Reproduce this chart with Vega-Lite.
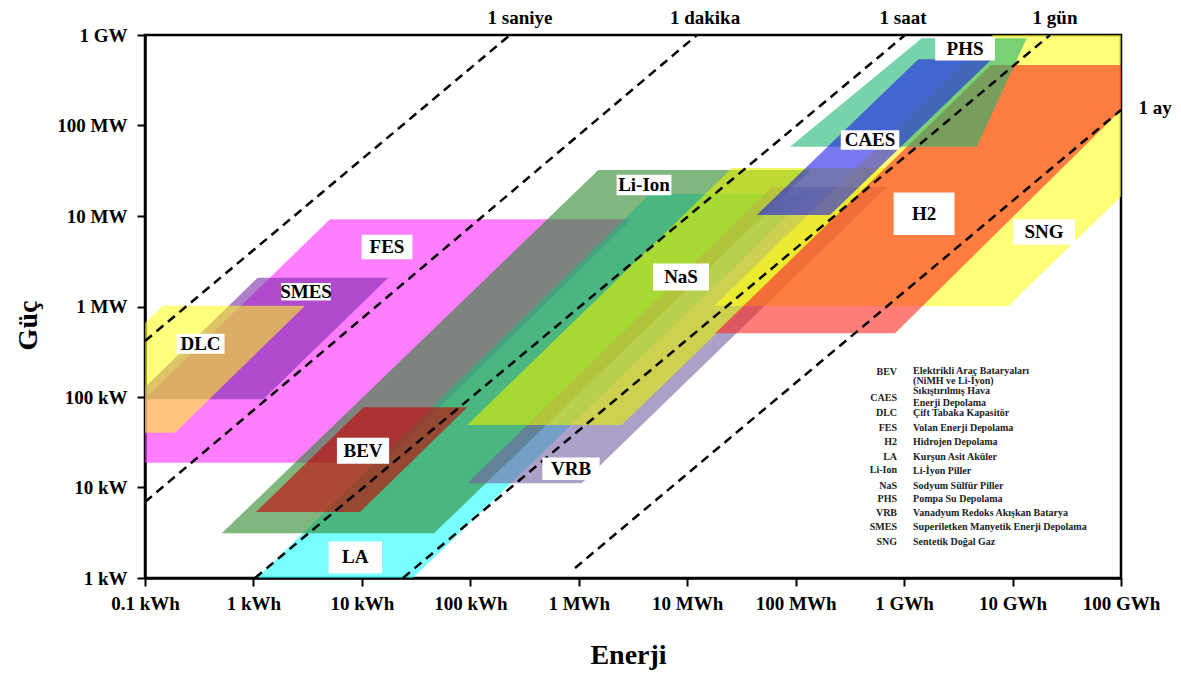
{
  "$schema": "https://vega.github.io/schema/vega-lite/v6.json",
  "width": 976,
  "height": 543,
  "autosize": {"type": "none"},
  "padding": {"left": 145, "top": 35, "right": 60, "bottom": 95},
  "background": "white",
  "config": {"view": {"stroke": "black", "strokeWidth": 2.5}, "font": "Liberation Serif"},
  "datasets": {
    "shapes": [
      {"name": "FES", "i": 0, "E": 0.1, "P": 96.25},
      {"name": "FES", "i": 1, "E": 5.082, "P": 9194},
      {"name": "FES", "i": 2, "E": 3076, "P": 9194},
      {"name": "FES", "i": 3, "E": 15.66, "P": 18.79},
      {"name": "FES", "i": 4, "E": 0.1, "P": 18.79},
      {"name": "LA", "i": 0, "E": 1.078, "P": 1},
      {"name": "LA", "i": 1, "E": 29.6, "P": 1},
      {"name": "LA", "i": 2, "E": 135600, "P": 17510},
      {"name": "LA", "i": 3, "E": 4538, "P": 17510},
      {"name": "Li-Ion", "i": 0, "E": 0.5097, "P": 3.118},
      {"name": "Li-Ion", "i": 1, "E": 46.24, "P": 3.118},
      {"name": "Li-Ion", "i": 2, "E": 137400, "P": 32240},
      {"name": "Li-Ion", "i": 3, "E": 1514, "P": 32240},
      {"name": "BEV", "i": 0, "E": 1.056, "P": 5.361},
      {"name": "BEV", "i": 1, "E": 9.61, "P": 5.361},
      {"name": "BEV", "i": 2, "E": 93.8, "P": 76.93},
      {"name": "BEV", "i": 3, "E": 10.31, "P": 76.93},
      {"name": "SMES", "i": 0, "E": 0.1, "P": 128.0},
      {"name": "SMES", "i": 1, "E": 1.095, "P": 2081},
      {"name": "SMES", "i": 2, "E": 17.52, "P": 2081},
      {"name": "SMES", "i": 3, "E": 1.233, "P": 94.3},
      {"name": "SMES", "i": 4, "E": 0.1, "P": 94.3},
      {"name": "DLC", "i": 0, "E": 0.1, "P": 657.3},
      {"name": "DLC", "i": 1, "E": 0.1466, "P": 1020},
      {"name": "DLC", "i": 2, "E": 2.989, "P": 1020},
      {"name": "DLC", "i": 3, "E": 0.1891, "P": 40.32},
      {"name": "DLC", "i": 4, "E": 0.1, "P": 40.32},
      {"name": "VRB", "i": 0, "E": 93.8, "P": 11.13},
      {"name": "VRB", "i": 1, "E": 1064, "P": 11.13},
      {"name": "VRB", "i": 2, "E": 695800, "P": 20910},
      {"name": "VRB", "i": 3, "E": 60530, "P": 20910},
      {"name": "NaS", "i": 0, "E": 93.8, "P": 49.04},
      {"name": "NaS", "i": 1, "E": 2488, "P": 49.04},
      {"name": "NaS", "i": 2, "E": 695800, "P": 33920},
      {"name": "NaS", "i": 3, "E": 25890, "P": 33920},
      {"name": "SNG", "i": 0, "E": 17670, "P": 1013},
      {"name": "SNG", "i": 1, "E": 9140000, "P": 1013},
      {"name": "SNG", "i": 2, "E": 100000000, "P": 16430},
      {"name": "SNG", "i": 3, "E": 100000000, "P": 1000000},
      {"name": "SNG", "i": 4, "E": 6607000, "P": 1000000},
      {"name": "H2", "i": 0, "E": 18050, "P": 505.7},
      {"name": "H2", "i": 1, "E": 824800, "P": 505.7},
      {"name": "H2", "i": 2, "E": 100000000, "P": 148400},
      {"name": "H2", "i": 3, "E": 100000000, "P": 466100},
      {"name": "H2", "i": 4, "E": 6331000, "P": 466100},
      {"name": "PHS", "i": 0, "E": 88720, "P": 58310},
      {"name": "PHS", "i": 1, "E": 4673000, "P": 58310},
      {"name": "PHS", "i": 2, "E": 13510000, "P": 919400},
      {"name": "PHS", "i": 3, "E": 1454000, "P": 919400},
      {"name": "CAES", "i": 0, "E": 43740, "P": 10260},
      {"name": "CAES", "i": 1, "E": 207400, "P": 10260},
      {"name": "CAES", "i": 2, "E": 6427000, "P": 538900},
      {"name": "CAES", "i": 3, "E": 1353000, "P": 538900}
    ],
    "lines": [
      {"id": "1 saniye", "E": 0.1, "P": 415.7},
      {"id": "1 saniye", "E": 232.2, "P": 1000000},
      {"id": "1 dakika", "E": 0.1, "P": 6.916},
      {"id": "1 dakika", "E": 12315, "P": 1000000},
      {"id": "1 saat", "E": 1.034, "P": 1},
      {"id": "1 saat", "E": 1019800, "P": 1000000},
      {"id": "1 gün", "E": 23.94, "P": 1},
      {"id": "1 gün", "E": 22160000, "P": 1000000},
      {"id": "1 ay", "E": 923.3, "P": 1.29},
      {"id": "1 ay", "E": 100000000, "P": 148400}
    ],
    "timeLabels": [
      {"label": "1 saniye", "E": 287.1, "P": 1541000},
      {"label": "1 dakika", "E": 14595, "P": 1541000},
      {"label": "1 saat", "E": 977200, "P": 1541000},
      {"label": "1 gün", "E": 24640000, "P": 1541000},
      {"label": "1 ay", "E": 206000000, "P": 156100}
    ],
    "labels": [
      {"name": "DLC", "E": 0.3249, "P": 388.2},
      {"name": "SMES", "E": 3.053, "P": 1457},
      {"name": "FES", "E": 17.04, "P": 4544},
      {"name": "BEV", "E": 10.24, "P": 25.5},
      {"name": "LA", "E": 8.695, "P": 1.685},
      {"name": "Li-Ion", "E": 3996, "P": 22000},
      {"name": "NaS", "E": 8767, "P": 2118},
      {"name": "VRB", "E": 848.1, "P": 16.13},
      {"name": "CAES", "E": 484900, "P": 69160},
      {"name": "PHS", "E": 3646000, "P": 703900},
      {"name": "H2", "E": 1527000, "P": 10600},
      {"name": "SNG", "E": 19510000, "P": 6657}
    ],
    "legendAbbr": [
      {"t": "BEV", "E": 860500, "P": 190.4},
      {"t": "CAES", "E": 860500, "P": 96.74},
      {"t": "DLC", "E": 860500, "P": 66.06},
      {"t": "FES", "E": 860500, "P": 45.1},
      {"t": "H2", "E": 860500, "P": 32.07},
      {"t": "LA", "E": 860500, "P": 21.89},
      {"t": "Li-Ion", "E": 860500, "P": 15.61},
      {"t": "NaS", "E": 860500, "P": 10.39},
      {"t": "PHS", "E": 860500, "P": 7.406},
      {"t": "VRB", "E": 860500, "P": 5.186},
      {"t": "SMES", "E": 860500, "P": 3.688},
      {"t": "SNG", "E": 860500, "P": 2.518}
    ],
    "legendDesc": [
      {"t": "Elektrikli Araç Bataryaları", "E": 1209000, "P": 195.3},
      {"t": "(NiMH ve Li-İyon)", "E": 1209000, "P": 151.4},
      {"t": "Sıkıştırılmış Hava", "E": 1209000, "P": 116.5},
      {"t": "Enerji Depolama", "E": 1209000, "P": 85.19},
      {"t": "Çift Tabaka Kapasitör", "E": 1209000, "P": 66.06},
      {"t": "Volan Enerji Depolama", "E": 1209000, "P": 45.1},
      {"t": "Hidrojen Depolama", "E": 1209000, "P": 31.83},
      {"t": "Kurşun Asit Aküler", "E": 1209000, "P": 21.89},
      {"t": "Li-İyon Piller", "E": 1209000, "P": 15.41},
      {"t": "Sodyum Sülfür Piller", "E": 1209000, "P": 10.26},
      {"t": "Pompa Su Depolama", "E": 1209000, "P": 7.406},
      {"t": "Vanadyum Redoks Akışkan Batarya", "E": 1209000, "P": 5.186},
      {"t": "Superiletken Manyetik Enerji Depolama", "E": 1209000, "P": 3.688},
      {"t": "Sentetik Doğal Gaz", "E": 1209000, "P": 2.531}
    ]
  },
  "encoding": {
    "x": {
      "field": "E", "type": "quantitative",
      "scale": {"type": "log", "domain": [0.1, 100000000], "nice": false},
      "axis": {
        "values": [0.1, 1, 10, 100, 1000, 10000, 100000, 1000000, 10000000, 100000000],
        "labelExpr": "['0.1 kWh','1 kWh','10 kWh','100 kWh','1 MWh','10 MWh','100 MWh','1 GWh','10 GWh','100 GWh'][round(log(datum.value)/LN10)+1]",
        "title": "Enerji", "titleFont": "Liberation Serif", "titleFontSize": 28, "titleFontWeight": "bold", "titleColor": "black",
        "titleX": 483, "titleY": 77, "titleBaseline": "middle", "titleAlign": "center", "titleAnchor": null,
        "labelFont": "Liberation Serif", "labelFontSize": 19, "labelFontWeight": "bold", "labelColor": "black",
        "labelPadding": 8, "tickSize": 8, "tickWidth": 2, "tickColor": "black",
        "domainColor": "black", "domainWidth": 2.5, "grid": false,
        "labelOverlap": false, "labelFlush": false, "labelBound": false
      }
    },
    "y": {
      "field": "P", "type": "quantitative",
      "scale": {"type": "log", "domain": [1, 1000000], "nice": false},
      "axis": {
        "values": [1, 10, 100, 1000, 10000, 100000, 1000000],
        "labelExpr": "['1 kW','10 kW','100 kW','1 MW','10 MW','100 MW','1 GW'][round(log(datum.value)/LN10)]",
        "title": "Güç", "titleFont": "Liberation Serif", "titleFontSize": 28, "titleFontWeight": "bold", "titleColor": "black",
        "titleX": -117, "titleY": 290, "titleAngle": -90, "titleBaseline": "middle", "titleAlign": "center",
        "labelFont": "Liberation Serif", "labelFontSize": 19, "labelFontWeight": "bold", "labelColor": "black",
        "labelPadding": 10, "tickSize": 8, "tickWidth": 2, "tickColor": "black",
        "domainColor": "black", "domainWidth": 2.5, "grid": false,
        "labelOverlap": false, "labelFlush": false, "labelBound": false
      }
    }
  },
  "layer": [
    {"data": {"name": "shapes"}, "transform": [{"filter": "datum.name === 'FES'"}], "mark": {"type": "line", "interpolate": "linear-closed", "fill": "#ff28ff", "fillOpacity": 0.6, "strokeWidth": 0}, "encoding": {"order": {"field": "i", "type": "quantitative"}}},
    {"data": {"name": "shapes"}, "transform": [{"filter": "datum.name === 'LA'"}], "mark": {"type": "line", "interpolate": "linear-closed", "fill": "#1effff", "fillOpacity": 0.6, "strokeWidth": 0}, "encoding": {"order": {"field": "i", "type": "quantitative"}}},
    {"data": {"name": "shapes"}, "transform": [{"filter": "datum.name === 'Li-Ion'"}], "mark": {"type": "line", "interpolate": "linear-closed", "fill": "#2a872a", "fillOpacity": 0.6, "strokeWidth": 0}, "encoding": {"order": {"field": "i", "type": "quantitative"}}},
    {"data": {"name": "shapes"}, "transform": [{"filter": "datum.name === 'BEV'"}], "mark": {"type": "line", "interpolate": "linear-closed", "fill": "#c80000", "fillOpacity": 0.6, "strokeWidth": 0}, "encoding": {"order": {"field": "i", "type": "quantitative"}}},
    {"data": {"name": "shapes"}, "transform": [{"filter": "datum.name === 'SMES'"}], "mark": {"type": "line", "interpolate": "linear-closed", "fill": "#7a2aaa", "fillOpacity": 0.6, "strokeWidth": 0}, "encoding": {"order": {"field": "i", "type": "quantitative"}}},
    {"data": {"name": "shapes"}, "transform": [{"filter": "datum.name === 'DLC'"}], "mark": {"type": "line", "interpolate": "linear-closed", "fill": "#ffff14", "fillOpacity": 0.55, "strokeWidth": 0}, "encoding": {"order": {"field": "i", "type": "quantitative"}}},
    {"data": {"name": "shapes"}, "transform": [{"filter": "datum.name === 'VRB'"}], "mark": {"type": "line", "interpolate": "linear-closed", "fill": "#7161a3", "fillOpacity": 0.6, "strokeWidth": 0}, "encoding": {"order": {"field": "i", "type": "quantitative"}}},
    {"data": {"name": "shapes"}, "transform": [{"filter": "datum.name === 'NaS'"}], "mark": {"type": "line", "interpolate": "linear-closed", "fill": "#e6f000", "fillOpacity": 0.6, "strokeWidth": 0}, "encoding": {"order": {"field": "i", "type": "quantitative"}}},
    {"data": {"name": "shapes"}, "transform": [{"filter": "datum.name === 'SNG'"}], "mark": {"type": "line", "interpolate": "linear-closed", "fill": "#ffff1e", "fillOpacity": 0.6, "strokeWidth": 0}, "encoding": {"order": {"field": "i", "type": "quantitative"}}},
    {"data": {"name": "shapes"}, "transform": [{"filter": "datum.name === 'H2'"}], "mark": {"type": "line", "interpolate": "linear-closed", "fill": "#ff261c", "fillOpacity": 0.6, "strokeWidth": 0}, "encoding": {"order": {"field": "i", "type": "quantitative"}}},
    {"data": {"name": "shapes"}, "transform": [{"filter": "datum.name === 'PHS'"}], "mark": {"type": "line", "interpolate": "linear-closed", "fill": "#1eb471", "fillOpacity": 0.6, "strokeWidth": 0}, "encoding": {"order": {"field": "i", "type": "quantitative"}}},
    {"data": {"name": "shapes"}, "transform": [{"filter": "datum.name === 'CAES'"}], "mark": {"type": "line", "interpolate": "linear-closed", "fill": "#1e1ee6", "fillOpacity": 0.6, "strokeWidth": 0}, "encoding": {"order": {"field": "i", "type": "quantitative"}}},
    {"data": {"name": "lines"}, "mark": {"type": "line", "color": "black", "strokeWidth": 2.5, "strokeDash": [9, 6]}, "encoding": {"detail": {"field": "id", "type": "nominal"}}},
    {"data": {"name": "timeLabels"}, "mark": {"type": "text", "font": "Liberation Serif", "fontSize": 19, "fontWeight": "bold", "color": "black", "align": "center", "baseline": "middle"}, "encoding": {"text": {"field": "label", "type": "nominal"}}},
    {"data": {"name": "labels"}, "mark": {"type": "point", "filled": true, "color": "white", "opacity": 1, "strokeWidth": 0},
      "encoding": {
        "shape": {"field": "name", "type": "nominal", "legend": null, "scale": {
          "domain": ["DLC", "SMES", "FES", "BEV", "LA", "Li-Ion", "NaS", "VRB", "CAES", "PHS", "H2", "SNG"],
          "range": ["M-1,-0.4167L1,-0.4167L1,0.4167L-1,0.4167Z", "M-1,-0.3548L1,-0.3548L1,0.3548L-1,0.3548Z", "M-1,-0.4783L1,-0.4783L1,0.4783L-1,0.4783Z", "M-1,-0.5L1,-0.5L1,0.5L-1,0.5Z", "M-1,-0.6L1,-0.6L1,0.6L-1,0.6Z", "M-1,-0.371L1,-0.371L1,0.371L-1,0.371Z", "M-1,-0.48L1,-0.48L1,0.48L-1,0.48Z", "M-1,-0.3913L1,-0.3913L1,0.3913L-1,0.3913Z", "M-1,-0.3333L1,-0.3333L1,0.3333L-1,0.3333Z", "M-1,-0.3913L1,-0.3913L1,0.3913L-1,0.3913Z", "M-1,-0.7L1,-0.7L1,0.7L-1,0.7Z", "M-1,-0.4091L1,-0.4091L1,0.4091L-1,0.4091Z"]}},
        "size": {"field": "name", "type": "nominal", "legend": null, "scale": {
          "domain": ["DLC", "SMES", "FES", "BEV", "LA", "Li-Ion", "NaS", "VRB", "CAES", "PHS", "H2", "SNG"],
          "range": [2304, 3844, 2116, 2116, 1600, 3844, 2500, 2116, 3600, 2116, 900, 1936]}}
      }},
    {"data": {"name": "labels"}, "mark": {"type": "text", "font": "Liberation Serif", "fontSize": 19, "fontWeight": "bold", "color": "black", "align": "center", "baseline": "middle"}, "encoding": {"text": {"field": "name", "type": "nominal"}}},
    {"data": {"name": "legendAbbr"}, "mark": {"type": "text", "font": "Liberation Serif", "fontSize": 10, "fontWeight": "bold", "color": "#222222", "align": "right", "baseline": "middle"}, "encoding": {"text": {"field": "t", "type": "nominal"}}},
    {"data": {"name": "legendDesc"}, "mark": {"type": "text", "font": "Liberation Serif", "fontSize": 10, "fontWeight": "bold", "color": "#222222", "align": "left", "baseline": "middle"}, "encoding": {"text": {"field": "t", "type": "nominal"}}}
  ]
}
